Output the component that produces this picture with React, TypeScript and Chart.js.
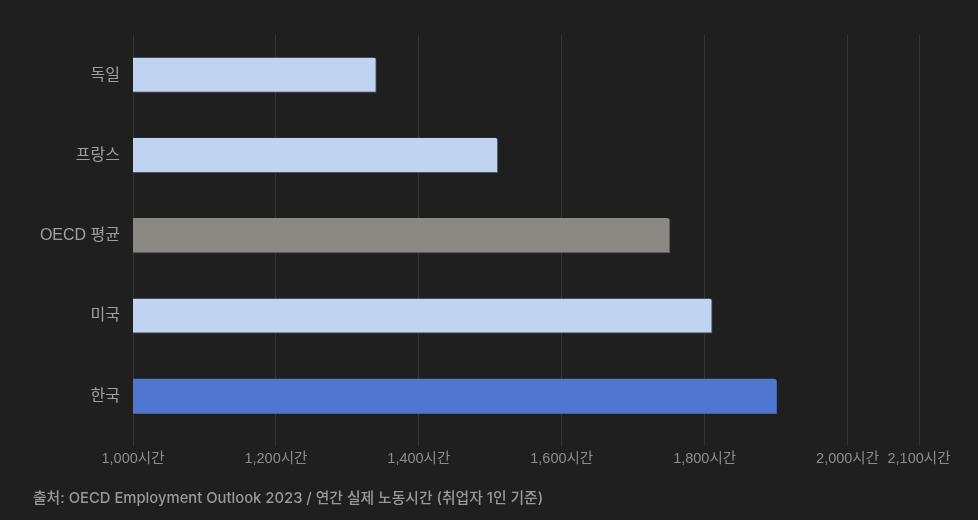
import React, { useEffect, useRef } from 'react';
import Chart from 'chart.js/auto';

const categories = ['독일', '프랑스', 'OECD 평균', '미국', '한국'];
const hours = [1341, 1511, 1752, 1811, 1901];
const barColors = ['#c0d4f1', '#c0d4f1', '#8a8984', '#c0d4f1', '#4f77cf'];
const edgeColors = ['#4c586a', '#4c586a', '#5c5b57', '#4c586a', '#4f77cf'];
const edgeWidths = [1, 1, 1, 1, 0];
const xMin = 1000;
const xMax = 2100;
const sourceNote = '출처: OECD Employment Outlook 2023 / 연간 실제 노동시간 (취업자 1인 기준)';

const tickFont = "'Liberation Sans', Arial, 'Noto Sans CJK KR', sans-serif";
const noteFont = "Inter, 'Noto Sans CJK KR', sans-serif";

const App: React.FC = () => {
    const canvasRef = useRef<HTMLCanvasElement>(null);
    const chartRef = useRef<Chart | null>(null);

    useEffect(() => {
        if (!canvasRef.current) return;
        if (chartRef.current) chartRef.current.destroy();

        chartRef.current = new Chart(canvasRef.current, {
            type: 'bar',
            data: {
                labels: categories,
                datasets: [{
                    label: '연간 노동시간',
                    data: hours,
                    backgroundColor: barColors,
                    borderColor: edgeColors,
                    borderWidth: (ctx) => {
                        const w = edgeWidths[ctx.dataIndex] ?? 0;
                        return { top: 0, right: w, bottom: w, left: 0 };
                    },
                    borderRadius: { topLeft: 0, topRight: 3, bottomLeft: 0, bottomRight: 0 },
                    borderSkipped: false,
                    barPercentage: 0.875,
                    categoryPercentage: 0.5,
                }]
            },
            options: {
                indexAxis: 'y',
                responsive: true,
                maintainAspectRatio: false,
                animation: false,
                layout: { padding: { left: 33, right: 59, top: 35, bottom: 0 } },
                scales: {
                    x: {
                        min: xMin,
                        max: xMax,
                        grid: { color: '#343434', tickLength: 10, tickColor: '#343434' },
                        border: { display: false },
                        ticks: {
                            stepSize: 200,
                            padding: 4,
                            color: '#8c8c8c',
                            font: { family: tickFont, size: 14.5 },
                            callback: (v) => Number(v).toLocaleString('en-US') + '시간',
                        }
                    },
                    y: {
                        grid: { display: false },
                        border: { display: true, color: '#343434' },
                        afterFit: (scale) => { scale.width = 100; },
                        ticks: {
                            padding: 5,
                            color: '#a0a0a0',
                            font: { family: tickFont, size: 16 },
                        }
                    }
                },
                plugins: {
                    legend: { display: false },
                    tooltip: { enabled: false },
                    title: {
                        display: true,
                        text: sourceNote,
                        position: 'bottom',
                        align: 'start',
                        color: '#999999',
                        padding: { top: 17.5, bottom: 13 },
                        font: { family: noteFont, size: 14.8, weight: 500 },
                    }
                }
            }
        });

        return () => {
            if (chartRef.current) {
                chartRef.current.destroy();
                chartRef.current = null;
            }
        };
    }, []);

    return (
        <div style={{ position: 'fixed', left: 0, top: 0, width: 978, height: 520, background: '#1f1f1f' }}>
            <canvas ref={canvasRef}></canvas>
        </div>
    );
};

export default App;
